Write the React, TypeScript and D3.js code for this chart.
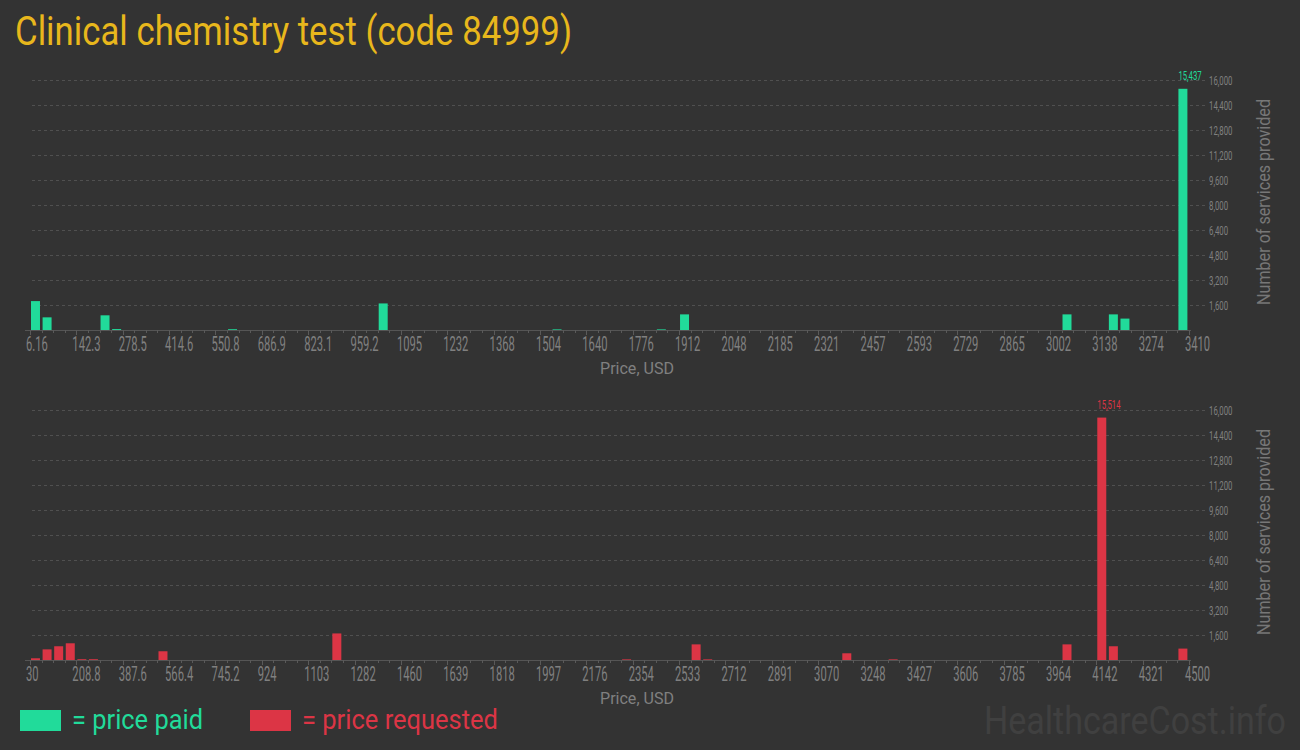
import React from "react";
import * as d3 from "d3";

const title = "Clinical chemistry test (code 84999)";

// top chart: price paid
const paidMin = 6.16;
const paidMax = 3410;
const paidTicks = ["6.16","142.3","278.5","414.6","550.8","686.9","823.1","959.2","1095","1232","1368","1504","1640","1776","1912","2048","2185","2321","2457","2593","2729","2865","3002","3138","3274","3410"];
const paidBinIndex = [0, 1, 6, 7, 17, 30, 45, 54, 56, 89, 93, 94, 99];
const paidCounts = [1850, 810, 940, 60, 50, 1700, 40, 40, 1000, 1000, 1000, 730, 15437];

// bottom chart: price requested
const reqMin = 30;
const reqMax = 4500;
const reqTicks = ["30","208.8","387.6","566.4","745.2","924","1103","1282","1460","1639","1818","1997","2176","2354","2533","2712","2891","3070","3248","3427","3606","3785","3964","4142","4321","4500"];
const reqBinIndex = [0, 1, 2, 3, 4, 5, 11, 26, 51, 57, 58, 70, 74, 89, 92, 93, 99];
const reqCounts = [110, 680, 880, 1070, 50, 50, 560, 1700, 40, 1000, 40, 430, 40, 1000, 15514, 880, 730];

const yTicks = [1600, 3200, 4800, 6400, 8000, 9600, 11200, 12800, 14400, 16000];
const binCount = 100;

const BG = "#333333";
const GREEN = "#21db9a";
const RED = "#dc3545";
const GOLD = "#e8b71c";
const LABEL = "#808080";
const FONT = "Roboto, 'Open Sans', sans-serif";

function Panel({ top, min, max, ticks, binIndex, counts, color }: any) {
  const base = top + 250;
  const x = d3.scaleLinear().domain([min, max]).range([30, 1189]);
  const y = d3.scaleLinear().domain([0, 16000]).range([base, top]);
  const binW = (max - min) / binCount;
  const fmt = d3.format(",");
  const majorVals = ticks.map((_: string, i: number) => min + ((max - min) * i) / (ticks.length - 1));
  const minorVals = d3.range(0, (ticks.length - 1) * 4 + 1).map((i) => min + ((max - min) * i) / ((ticks.length - 1) * 4));
  const maxI = counts.indexOf(d3.max(counts));
  return (
    <g>
      {yTicks.map((t) => (
        <g key={t}>
          <line x1={32} x2={1206} y1={y(t) + 0.5} y2={y(t) + 0.5} stroke="#505050" strokeDasharray="3,3" strokeWidth={1} />
          <text
            transform={`translate(1209,${y(t) + 4.5}) scale(0.6,1)`}
            fontFamily={FONT}
            fontSize={13}
            fill={LABEL}
          >
            {fmt(t)}
          </text>
        </g>
      ))}
      <line x1={25} x2={1191} y1={base + 0.5} y2={base + 0.5} stroke="#555" strokeWidth={1} />
      {minorVals.map((v: number, i: number) => (
        <line key={"m" + i} x1={Math.round(x(v)) + 0.5} x2={Math.round(x(v)) + 0.5} y1={base} y2={base + (i % 4 === 0 ? 5 : 3)} stroke="#5a5a5a" strokeWidth={1} />
      ))}
      {majorVals.map((v: number, i: number) => (
        <text
          key={"t" + i}
          transform={`translate(${x(v) - 4},${base + 21}) scale(0.56,1)`}
          fontFamily={FONT}
          fontSize={20}
          fill={LABEL}
        >
          {ticks[i]}
        </text>
      ))}
      {binIndex.map((b: number, i: number) => {
        const x0 = x(min + b * binW);
        const x1 = x(min + (b + 1) * binW);
        return (
          <rect key={"b" + i} x={x0 + 1} y={y(counts[i])} width={x1 - x0 - 2.6} height={base - y(counts[i])} fill={color} />
        );
      })}
      <text
        transform={`translate(${x(min + binIndex[maxI] * binW) + 1},${y(counts[maxI]) - 9}) scale(0.62,1)`}
        fontFamily={FONT}
        fontSize={12.5}
        fill={color}
      >
        {fmt(counts[maxI])}
      </text>
      <text x={637} y={base + 44} textAnchor="middle" fontFamily={FONT} fontSize={17} fill={LABEL} textLength={74} lengthAdjust="spacingAndGlyphs">
        Price, USD
      </text>
      <text
        transform={`translate(1270,${top + 122}) rotate(-90)`}
        textAnchor="middle"
        fontFamily={FONT}
        fontSize={18}
        fill="#777"
        textLength={206}
        lengthAdjust="spacingAndGlyphs"
      >
        Number of services provided
      </text>
    </g>
  );
}

export default function App() {
  return (
    <svg width={1300} height={750} style={{ position: "absolute", left: 0, top: 0, background: BG }}>
      <rect x={0} y={0} width={1300} height={750} fill={BG} />
      <text x={15} y={45} fontFamily={FONT} fontSize={40} fill={GOLD} textLength={557} lengthAdjust="spacingAndGlyphs">
        {title}
      </text>
      <Panel top={80} min={paidMin} max={paidMax} ticks={paidTicks} binIndex={paidBinIndex} counts={paidCounts} color={GREEN} />
      <Panel top={410} min={reqMin} max={reqMax} ticks={reqTicks} binIndex={reqBinIndex} counts={reqCounts} color={RED} />
      <rect x={20} y={710} width={41} height={21} fill={GREEN} />
      <text x={72} y={729} fontFamily={FONT} fontSize={28} fill={GREEN} textLength={131} lengthAdjust="spacingAndGlyphs">
        = price paid
      </text>
      <rect x={250} y={710} width={41} height={21} fill={RED} />
      <text x={302} y={729} fontFamily={FONT} fontSize={28} fill={RED} textLength={196} lengthAdjust="spacingAndGlyphs">
        = price requested
      </text>
      <text x={1286} y={734} textAnchor="end" fontFamily={FONT} fontSize={38} fill="#404040" textLength={302} lengthAdjust="spacingAndGlyphs">
        HealthcareCost.info
      </text>
    </svg>
  );
}
